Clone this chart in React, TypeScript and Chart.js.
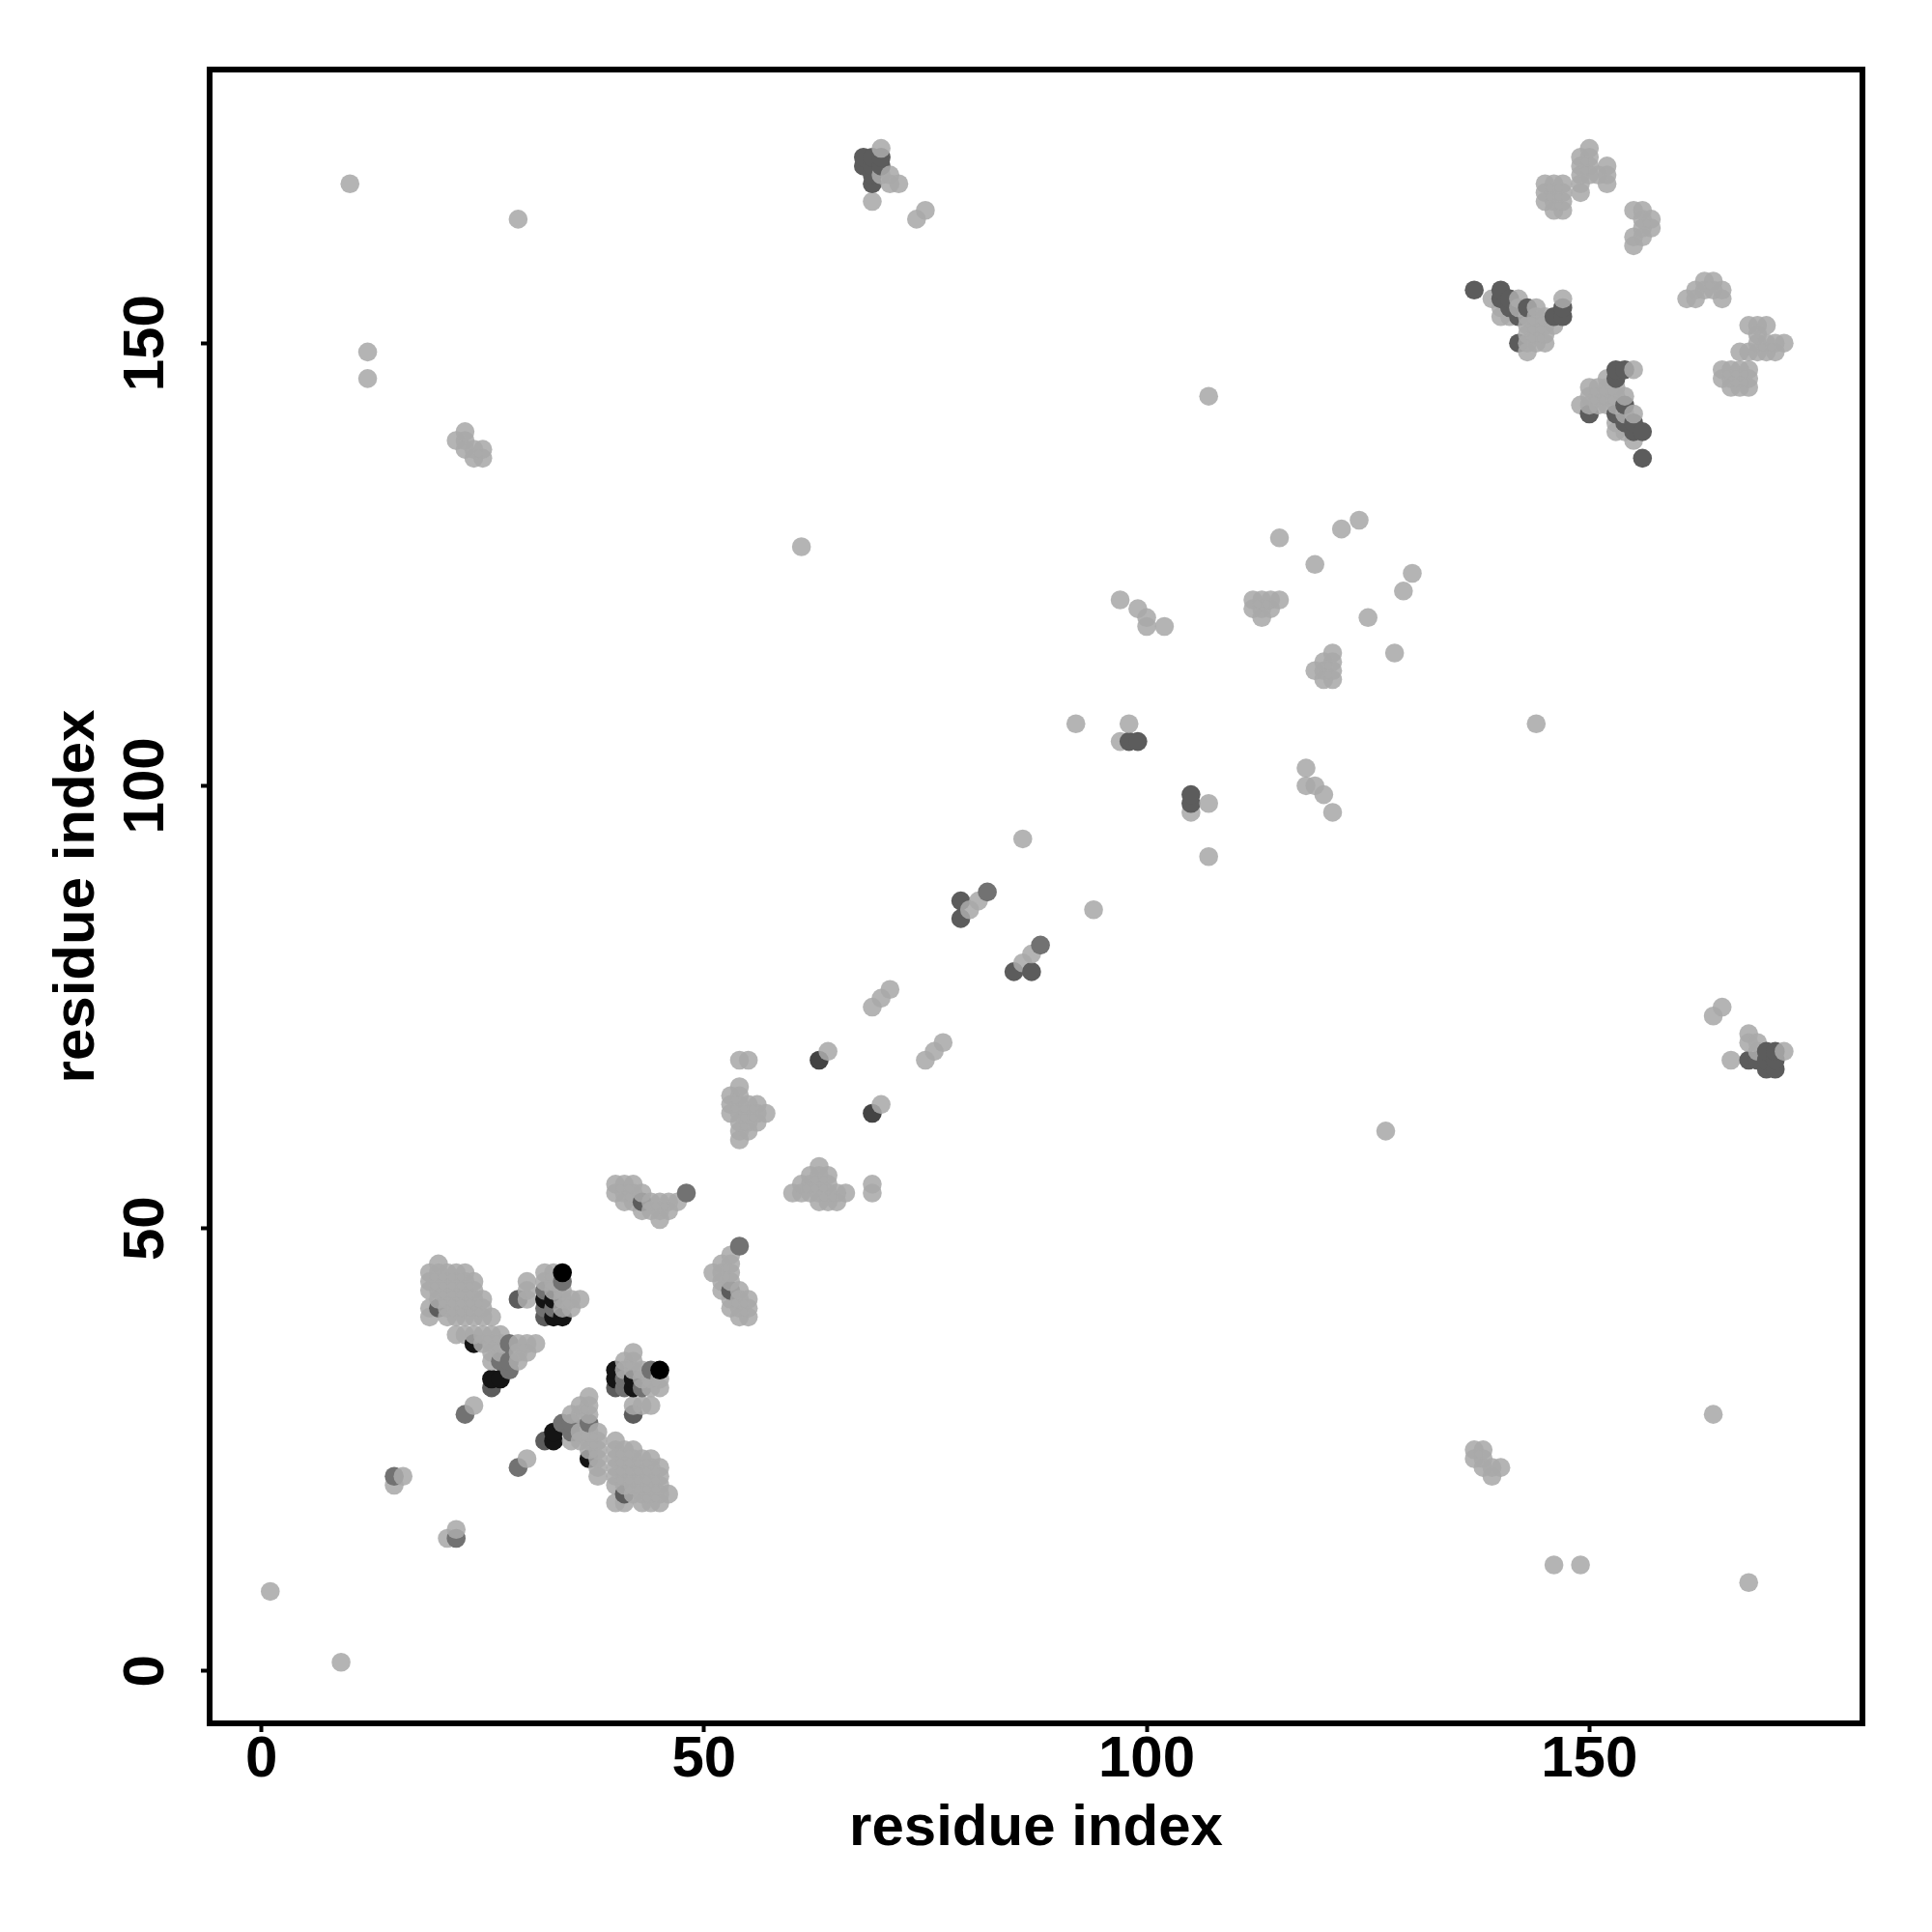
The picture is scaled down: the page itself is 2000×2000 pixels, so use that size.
import React, { useEffect, useRef } from "react";
import { Chart, registerables } from "chart.js";

Chart.register(...registerables);

// Contacts as [i, j] residue pairs with i < j; the map is symmetric.
const lightContacts: number[][] = [
  [1,9],[10,168],[29,164],[12,149],[12,146],[15,21],[16,22],[24,30],
  [19,40],[19,41],[19,43],[19,44],[19,45],
  [20,42],[20,43],[20,44],[20,45],[20,46],
  [21,40],[21,41],[21,42],[21,43],[21,44],[21,45],
  [22,40],[22,41],[22,42],[22,43],[22,44],[22,45],
  [23,40],[23,41],[23,42],[23,43],[23,44],[23,45],
  [24,40],[24,41],[24,42],[24,43],[24,44],
  [25,40],[25,41],[25,42],[26,40],
  [22,38],[23,38],[24,38],[25,38],[26,38],[27,38],
  [25,37],[26,37],[27,37],[26,36],[27,36],[26,35],
  [29,37],[30,37],[31,37],[29,36],[30,36],[29,35],
  [30,42],[30,43],[30,44],[32,44],[32,45],[33,43],[33,44],[33,45],
  [34,41],[34,42],[34,43],[35,41],[35,42],[36,42],
  [40,54],[40,55],[41,53],[41,54],[41,55],[42,53],[42,54],[42,55],
  [43,52],[43,54],[44,52],[44,53],[45,51],[45,52],[45,53],[46,52],[46,53],[47,53],
  [53,63],[53,64],[53,65],
  [54,60],[54,61],[54,62],[54,63],[54,64],[54,65],[54,66],[54,69],
  [55,61],[55,62],[55,63],[55,64],[55,69],[56,62],[56,63],[56,64],[57,63],
  [64,70],[69,75],[70,76],[71,77],[61,127],
  [69,166],[70,169],[70,172],[71,168],[71,169],[72,168],[74,164],[75,165],
  [80,86],[81,87],[86,94],[92,107],[98,107],[97,105],[107,144],
  [100,118],[100,119],[102,118],[97,121],[99,120],
  [112,120],[112,121],[113,119],[113,120],[113,121],[114,120],[114,121],[115,121],
  [115,128],[122,129],[124,130],[119,125],
  [22,139],[23,138],[23,139],[23,140],[24,137],[24,138],[25,137],[25,138],
  [139,155],[140,153],[140,154],[141,153],[142,154],[142,155],
  [143,149],[143,150],[143,151],[143,152],[143,153],
  [144,150],[144,151],[144,152],[144,153],[144,154],
  [145,150],[145,151],[145,152],[145,153],[146,152],[147,155],
  [145,166],[145,167],[145,168],
  [146,165],[146,166],[146,167],[146,168],[147,165],[147,166],[147,167],[147,168],
  [149,167],[149,168],[149,169],[149,170],[149,171],
  [150,169],[150,170],[150,171],[150,172],[151,169],[152,168],[152,169],[152,170],
  [155,161],[155,162],[155,165],[156,162],[156,163],[156,164],[156,165],[157,163],[157,164],
];
const midContacts: number[][] = [
  [15,22],[23,29],[27,35],[28,34],[28,35],[28,37],[32,41],[32,43],[33,41],[34,44],[48,54],[82,88],
];
const darkContacts: number[][] = [
  [20,41],[26,32],[29,42],[32,40],[43,53],
  [68,170],[68,171],[69,168],[69,169],[69,170],[69,171],[70,170],[70,171],
  [79,85],[79,87],[98,105],[99,105],
  [137,156],[140,155],[140,156],[141,154],[141,155],[142,150],[142,153],[143,154],[146,153],[147,153],[147,154],
];
const charcoalContacts: number[][] = [[63,69]];
const nearBlackContacts: number[][] = [
  [24,37],[26,33],[27,33],[32,42],[33,40],[33,42],[34,40],
];
const blackContacts: number[][] = [[34,45]];

const tickStep = 50;
const axisTitle = "residue index";

const LIGHT = "rgba(170,170,170,0.88)";
const MID = "#727272";
const DARK = "#5c5c5c";
const CHARCOAL = "#444444";
const NEAR_BLACK = "#141414";
const BLACK = "#000000";

function buildPoints() {
  const groups: [number[][], string][] = [
    [lightContacts, LIGHT],
    [midContacts, MID],
    [darkContacts, DARK],
    [charcoalContacts, CHARCOAL],
    [nearBlackContacts, NEAR_BLACK],
    [blackContacts, BLACK],
  ];
  const all: { x: number; y: number; c: string }[] = [];
  for (const [pairs, c] of groups) {
    for (const [i, j] of pairs) {
      all.push({ x: i, y: j, c });
      all.push({ x: j, y: i, c });
    }
  }
  all.sort((a, b) => a.x - b.x || a.y - b.y);
  return all;
}

const FONT_FAMILY = "'Liberation Sans', Arial, sans-serif";

const framePlugin = {
  id: "frame",
  afterDatasetsDraw(chart: any) {
    const { ctx, chartArea: a } = chart;
    ctx.save();
    ctx.strokeStyle = "#000";
    ctx.lineWidth = 6;
    ctx.strokeRect(a.left, a.top, a.right - a.left, a.bottom - a.top);
    ctx.restore();
  },
};

export default function App() {
  const ref = useRef<HTMLCanvasElement>(null);
  useEffect(() => {
    const points = buildPoints();
    const tickFont = { family: FONT_FAMILY, size: 60, weight: "bold" as const };
    const titleFont = { family: FONT_FAMILY, size: 60, weight: "bold" as const, lineHeight: 1.2 };
    const chart = new Chart(ref.current as HTMLCanvasElement, {
      type: "scatter",
      data: {
        datasets: [
          {
            data: points.map((p) => ({ x: p.x, y: p.y })),
            pointBackgroundColor: points.map((p) => p.c),
            pointBorderWidth: 0,
            pointRadius: 9.8,
            pointHoverRadius: 9.8,
          },
        ],
      },
      options: {
        animation: false,
        responsive: false,
        devicePixelRatio: 1,
        layout: { padding: { top: 72, right: 72, left: 0, bottom: 0 } },
        plugins: { legend: { display: false }, tooltip: { enabled: false } },
        scales: {
          x: {
            type: "linear",
            min: -5.85,
            max: 180.85,
            border: { display: false },
            grid: { drawOnChartArea: false, drawTicks: true, tickLength: 9, tickWidth: 4, tickColor: "#000" },
            ticks: {
              stepSize: tickStep,
              includeBounds: false,
              color: "#000",
              font: tickFont,
              padding: -7,
              maxRotation: 0,
              minRotation: 0,
            },
            title: {
              display: true,
              text: axisTitle,
              color: "#000",
              font: titleFont,
              padding: { top: 0, bottom: 71 },
            },
            afterFit: (s: any) => {
              s.height = 216;
            },
          },
          y: {
            type: "linear",
            min: -5.9,
            max: 180.9,
            border: { display: false },
            grid: { drawOnChartArea: false, drawTicks: true, tickLength: 9, tickWidth: 4, tickColor: "#000" },
            ticks: {
              stepSize: tickStep,
              includeBounds: false,
              color: "#000",
              font: tickFont,
              padding: 5,
              minRotation: 90,
              maxRotation: 90,
              crossAlign: "center",
            },
            title: {
              display: true,
              text: axisTitle,
              color: "#000",
              font: titleFont,
              padding: { top: 44, bottom: 0 },
            },
            afterFit: (s: any) => {
              s.width = 217;
            },
          },
        },
      } as any,
      plugins: [framePlugin],
    });
    return () => chart.destroy();
  }, []);
  return (
    <canvas
      ref={ref}
      width={2000}
      height={2000}
      style={{ position: "absolute", left: 0, top: 0, width: 2000, height: 2000, background: "#fff" }}
    />
  );
}
